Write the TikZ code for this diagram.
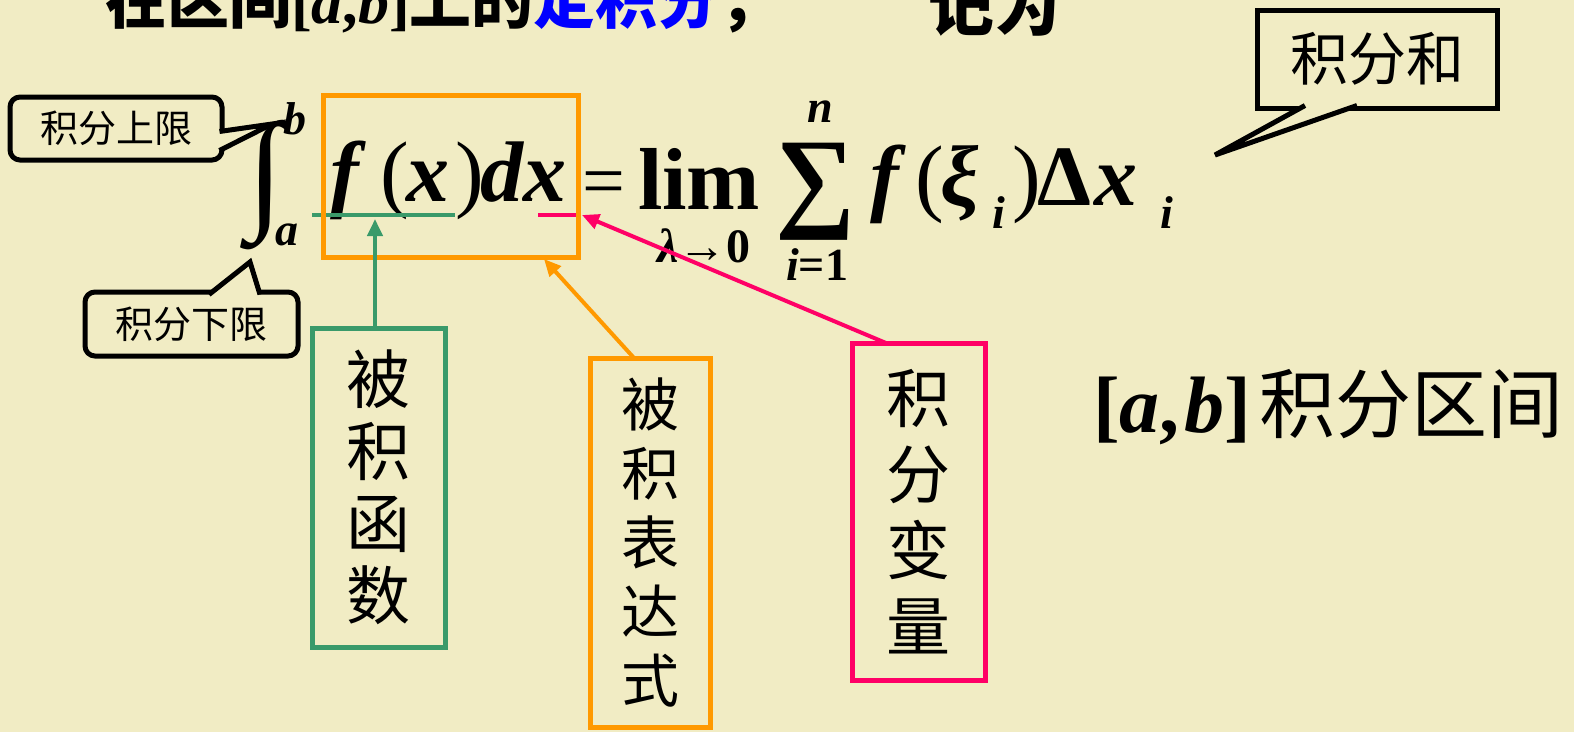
\documentclass[tikz,border=0pt]{standalone}
\usepackage{fontspec}
\setmainfont{Liberation Serif}
\newfontfamily\cjk{Noto Sans CJK SC}
\usetikzlibrary{arrows.meta,calc}
\definecolor{bg}{RGB}{241,236,196}
\definecolor{gr}{RGB}{58,154,106}
\definecolor{og}{RGB}{255,153,0}
\definecolor{pk}{RGB}{255,0,102}
\newcommand\fsz[2]{\fontsize{#1}{#2}\selectfont}
\tikzset{
  mathbi/.style={anchor=base west, font=\bfseries\itshape\fsz{86}{86}},
  paren/.style={anchor=base west, font=\fsz{86}{86}},
  mathsub/.style={anchor=base west, font=\bfseries\itshape\fsz{46}{46}},
  vbox/.style={draw=#1, line width=5, align=center},
  callout/.style={draw=black, line width=5, fill=bg, font=\cjk\fsz{38}{38}},
  arr/.style={line width=4, -{Triangle[length=17pt,width=15pt]}},
}
\begin{document}
\begin{tikzpicture}[x=1pt,y=-1pt, every node/.style={inner sep=0pt, outer sep=0pt}]
\useasboundingbox (0,0) rectangle (1574,732);
\fill[bg] (0,0) rectangle (1574,732);

% title (cut off at top)
\node[anchor=base west, font=\cjk\bfseries\fsz{62}{62}] (title) at (105,23)
  {在区间{\rmfamily\bfseries[\textit{a},\textit{b}]}上的\textcolor{blue}{定积分}，};
\node[anchor=base west, font=\cjk\bfseries\fsz{66}{66}] (jiwei) at (928,30) {记为};

% integral
\node[anchor=base, font=\bfseries\fsz{132}{132}] (int) at (266,214) {∫};
\node[mathsub] (ub) at (283,134) {b};
\node[mathsub] (lb) at (275,245) {a};

% integrand
\node[mathbi] (fx1) at (330,201) {f};
\node[paren] (lp1) at (380,201) {(};
\node[mathbi] (fx2) at (406,201) {x};
\node[paren] (rp1) at (455,201) {)};
\node[mathbi] (fx3) at (480,201) {dx};
\node[anchor=base west, font=\fsz{76}{76}] (eq) at (582,206) {=};
\node[anchor=base west, font=\bfseries\fsz{88}{88}] (lim) at (638,209) {lim};
\node[anchor=base, font=\bfseries\fsz{48}{48}] (lam) at (704,262) {\textit{λ}→0};
\node[anchor=base, font=\bfseries\fsz{112}{112}] (sum) at (815,216) {∑};
\node[anchor=base, font=\bfseries\itshape\fsz{46}{46}] (n) at (820,122) {n};
\node[anchor=base, font=\bfseries\fsz{46}{46}] (i1) at (817,280) {\textit{i}=1};
\node[mathbi] (f2) at (870,205) {f};
\node[paren] (lp2) at (915,205) {(};
\node[mathbi] (xi) at (940,205) {ξ};
\node[mathsub] (s1) at (992,228) {i};
\node[paren] (rp2) at (1012,205) {)};
\node[anchor=base west, font=\bfseries\fsz{86}{86}] (dl) at (1037,205) {Δ};
\node[mathbi] (x2) at (1094,205) {x};
\node[mathsub] (s2) at (1160,228) {i};

% underlines
\coordinate (g1) at (312,215); \coordinate (g2) at (455,215);
\coordinate (p1) at (538,215); \coordinate (p2) at (580,215);
\draw[gr, line width=4] (g1) -- (g2);
\draw[pk, line width=4] (p1) -- (p2);

% orange box around integrand
\node[draw=og, line width=5, minimum width=255, minimum height=162] (fbox) at (450.5,176) {};

% vertical labels
\node[vbox=gr, minimum width=133, minimum height=319, font=\cjk\fsz{64}{72}] (gbox) at (378.5,487.5) {被\\积\\函\\数};
\node[vbox=og, minimum width=120, minimum height=369, font=\cjk\fsz{58}{69}] (obox) at (650,542.5) {被\\积\\表\\达\\式};
\node[vbox=pk, minimum width=133, minimum height=337, font=\cjk\fsz{64}{76}] (pbox) at (918.5,511.5) {积\\分\\变\\量};

% arrows
\coordinate (gtip) at (375,219);
\draw[gr, arr] ($(gbox.north)+(-3.5,0)$) -- (gtip);
\draw[og, arr] ($(obox.north west)+(44,0)$) -- ($(fbox.south east)+(-34,2)$);
\draw[pk, arr] ($(pbox.north west)+(34,0)$) -- ($(fbox.east)+(4,39)$);

% callout: upper limit
\node[callout, rounded corners=10pt, minimum width=212, minimum height=63] (up) at (116,128.5) {积分上限};
\coordinate (uptip) at (272,124);
\fill[bg] ($(up.east)+(-5,3)$) -- (uptip) -- ($(up.east)+(-5,22)$) -- cycle;
\draw[line width=5, line join=miter] ($(up.east)+(-2.5,3)$) -- (uptip) -- ($(up.east)+(-2.5,22)$);

% callout: lower limit
\node[callout, rounded corners=10pt, minimum width=213, minimum height=64] (lo) at (191.5,324) {积分下限};
\coordinate (lotip) at (250,262);
\fill[bg] ($(lo.north west)+(124,5)$) -- (lotip) -- ($(lo.north west)+(175,5)$) -- cycle;
\draw[line width=5, line join=miter] ($(lo.north west)+(124,2.5)$) -- (lotip) -- ($(lo.north west)+(175,2.5)$);

% callout: sum
\node[callout, font=\cjk\fsz{58}{58}, minimum width=240, minimum height=98] (sumc) at (1377,59) {积分和};
\coordinate (stip) at (1215,155);
\fill[bg] ($(sumc.south west)+(48,-5)$) -- (stip) -- ($(sumc.south west)+(100,-5)$) -- cycle;
\draw[line width=5, line join=miter] ($(sumc.south west)+(48,-2.5)$) -- (stip) -- ($(sumc.south west)+(100,-2.5)$);

% interval
\node[anchor=base west, font=\fsz{76}{76}] (ab) at (1093,432)
  {{\bfseries\fsz{80}{80}[\textit{a},\hspace{5pt}\textit{b}]}\hspace{8pt}{\cjk 积分区间}};
\end{tikzpicture}
\end{document}
